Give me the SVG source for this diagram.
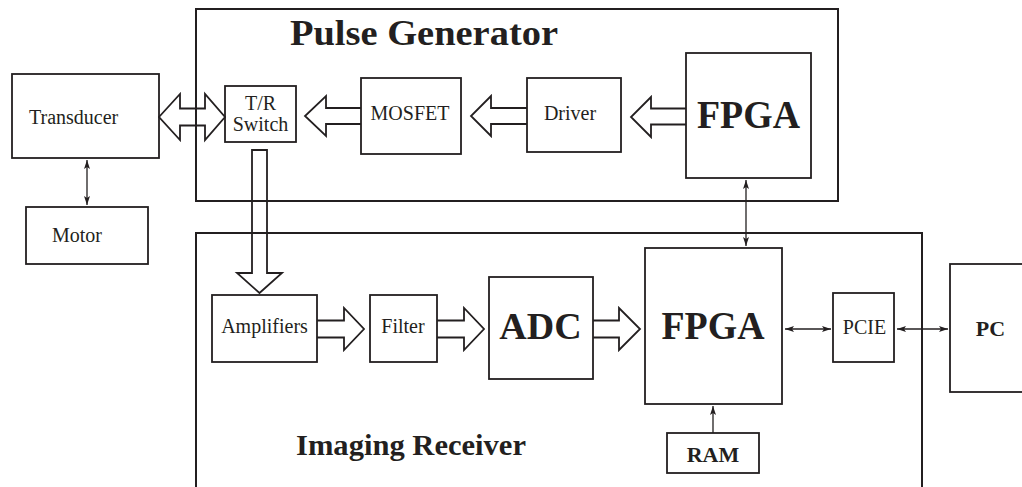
<svg xmlns="http://www.w3.org/2000/svg" width="1022" height="487" viewBox="0 0 1022 487">
<style>
.box{fill:none;stroke:#231f20;stroke-width:1.8}
.frame{fill:none;stroke:#231f20;stroke-width:2}
.blk{fill:none;stroke:#231f20;stroke-width:1.8;stroke-linejoin:miter}
.thin{fill:none;stroke:#231f20;stroke-width:1.3}
.t{font-family:"Liberation Serif","Times New Roman",serif;font-size:20px;fill:#231f20}
.b{font-family:"Liberation Serif","Times New Roman",serif;font-weight:bold;fill:#231f20}
</style>
<defs>
<marker id="ah" viewBox="0 0 9 6" refX="9" refY="3" markerWidth="9" markerHeight="6" markerUnits="userSpaceOnUse" orient="auto-start-reverse">
<path d="M0,0 L9,3 L0,6 L2,3 z" fill="#231f20"/>
</marker>
</defs>
<rect width="1022" height="487" fill="#fff"/>

<g id="pulse-generator">
<rect class="frame" x="196" y="9" width="642" height="192"/>
<text class="b" x="290" y="45" font-size="36" textLength="268" lengthAdjust="spacingAndGlyphs">Pulse Generator</text>
</g>
<g id="imaging-receiver">
<rect class="frame" x="196" y="233" width="726" height="270"/>
<text class="b" x="296" y="455" font-size="30" textLength="230" lengthAdjust="spacingAndGlyphs">Imaging Receiver</text>
</g>

<g id="transducer">
<rect class="box" x="12" y="74" width="147" height="84"/>
<text class="t" x="29" y="124">Transducer</text>
</g>
<g id="motor">
<rect class="box" x="26" y="207" width="122" height="57"/>
<text class="t" x="52" y="242">Motor</text>
</g>
<g id="tr-switch">
<rect class="box" x="225" y="86" width="71" height="56"/>
<text class="t" x="260.5" y="110" text-anchor="middle">T/R</text>
<text class="t" x="260.5" y="131" text-anchor="middle">Switch</text>
</g>
<g id="mosfet">
<rect class="box" x="361" y="78" width="100" height="76"/>
<text class="t" x="410" y="120" text-anchor="middle">MOSFET</text>
</g>
<g id="driver">
<rect class="box" x="527" y="78" width="94" height="74"/>
<text class="t" x="570" y="120" text-anchor="middle">Driver</text>
</g>
<g id="fpga-top">
<rect class="box" x="686" y="53" width="125" height="125"/>
<text class="b" x="748.5" y="128" font-size="40" text-anchor="middle" textLength="103" lengthAdjust="spacingAndGlyphs">FPGA</text>
</g>
<g id="amplifiers">
<rect class="box" x="212" y="295" width="105" height="67"/>
<text class="t" x="264.5" y="333" text-anchor="middle">Amplifiers</text>
</g>
<g id="filter">
<rect class="box" x="370" y="295" width="67" height="67"/>
<text class="t" x="403" y="333" text-anchor="middle">Filter</text>
</g>
<g id="adc">
<rect class="box" x="489" y="277" width="104" height="102"/>
<text class="b" x="540.5" y="339" font-size="38" text-anchor="middle">ADC</text>
</g>
<g id="fpga-bottom">
<rect class="box" x="645" y="248" width="137" height="156"/>
<text class="b" x="713" y="339" font-size="39" text-anchor="middle" textLength="103" lengthAdjust="spacingAndGlyphs">FPGA</text>
</g>
<g id="pcie">
<rect class="box" x="833" y="293" width="61" height="69"/>
<text class="t" x="864.5" y="334" text-anchor="middle">PCIE</text>
</g>
<g id="pc">
<rect class="box" x="950" y="264" width="90" height="128"/>
<text class="b" x="990.5" y="336" font-size="22" text-anchor="middle">PC</text>
</g>
<g id="ram">
<rect class="box" x="667" y="433" width="92" height="40"/>
<text class="b" x="713" y="462" font-size="22" text-anchor="middle">RAM</text>
</g>

<g id="connectors">
<path class="blk" d="M159,117 L180,94 V108.5 H205 V94 L225,117 L205,140 V125.5 H180 V140 Z"/>
<path class="blk" d="M361,108 H326 V96 L305,116 L326,136 V124 H361"/>
<path class="blk" d="M527,108 H491 V96 L471,116 L491,136 V124 H527"/>
<path class="blk" d="M686,108.5 H651 V97 L631,117 L651,137 V124.5 H686"/>
<path class="blk" d="M252,150 H267 V273 H282 L259.5,293 L237,273 H252 Z"/>
<path class="blk" d="M317,320.5 H344 V308 L364,329 L344,350 V337.5 H317"/>
<path class="blk" d="M437,320.5 H464 V308 L484,329 L464,350 V337.5 H437"/>
<path class="blk" d="M593,320.5 H619 V308 L640,329 L619,350 V337.5 H593"/>
<line class="thin" x1="87" y1="160" x2="87" y2="205" marker-start="url(#ah)" marker-end="url(#ah)"/>
<line class="thin" x1="746" y1="180" x2="746" y2="246" marker-start="url(#ah)" marker-end="url(#ah)"/>
<line class="thin" x1="785" y1="329" x2="831" y2="329" marker-start="url(#ah)" marker-end="url(#ah)"/>
<line class="thin" x1="897" y1="329" x2="948" y2="329" marker-start="url(#ah)" marker-end="url(#ah)"/>
<line class="thin" x1="713" y1="433" x2="713" y2="406" marker-end="url(#ah)"/>
</g>
</svg>
